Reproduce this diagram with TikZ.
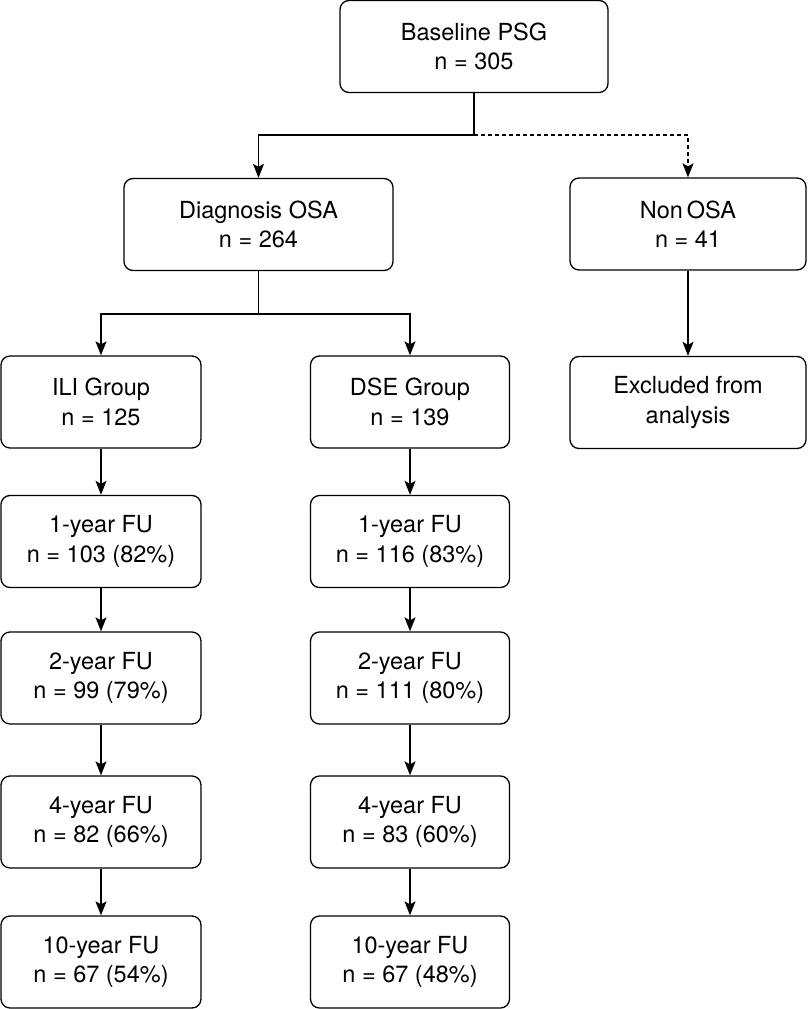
\documentclass[tikz,border=0pt]{standalone}
\usepackage{fontspec}
\setmainfont{TeX Gyre Heros}
\usetikzlibrary{arrows.meta}

\tikzset{
  stage/.style={draw, line width=1.3pt, rounded corners=9pt, align=center,
    minimum height=92pt, inner sep=0pt, font=\fontsize{23.5}{29.5}\selectfont},
  flow/.style={line width=1.3pt, -{Stealth[length=14pt,width=11pt,inset=3pt]}},
  link/.style={line width=1.3pt}
}

\begin{document}
\begin{tikzpicture}[x=1pt,y=1pt]
			%%%%% START %%%%%
			\useasboundingbox (0, 0) rectangle (807, -1009);
			
			\node[stage, minimum width=268pt] (base) at (474, -46.5) {Baseline PSG\\n = 305};
			
			\node[stage, minimum width=269pt] (diag) at (258.5, -224.5) {Diagnosis OSA\\n = 264};
			\node[stage, minimum width=236pt] (non) at (688, -224) {Non\,OSA\\n = 41};
			
			\node[stage, minimum width=200pt] (ili) at (101, -402) {ILI Group\\n = 125};
			\node[stage, minimum width=199pt] (dse) at (410, -402) {DSE Group\\n = 139};
			\node[stage, minimum width=236pt] (excl) at (688, -402.5) {Excluded from\\analysis};
			
			\node[stage, minimum width=200pt] (ili1) at (101, -541.5) {1-year FU\\n = 103 (82\%)};
			\node[stage, minimum width=200pt] (ili2) at (101, -678) {2-year FU\\n = 99 (79\%)};
			\node[stage, minimum width=200pt] (ili4) at (101, -822) {4-year FU\\n = 82 (66\%)};
			\node[stage, minimum width=200pt] (ili10) at (101, -962) {10-year FU\\n = 67 (54\%)};
			
			\node[stage, minimum width=199pt] (dse1) at (410, -541.5) {1-year FU\\n = 116 (83\%)};
			\node[stage, minimum width=199pt] (dse2) at (410, -678) {2-year FU\\n = 111 (80\%)};
			\node[stage, minimum width=199pt] (dse4) at (410, -822) {4-year FU\\n = 83 (60\%)};
			\node[stage, minimum width=199pt] (dse10) at (410, -962) {10-year FU\\n = 67 (48\%)};
			
			% branch points
			\coordinate (split) at (474, -135);
			\coordinate (fork) at (258.5, -314);
			
			\draw[link] (base) -- (split);
			\draw[flow] (split) -| (diag);
			\draw[flow, dash pattern=on 4pt off 3pt] (split) -| (non);
			\draw[flow] (non) -- (excl);
			
			\draw[link] (diag) -- (fork);
			\draw[flow] (fork) -| (ili);
			\draw[flow] (fork) -| (dse);
			
			\draw[flow] (ili) -- (ili1);
			\draw[flow] (ili1) -- (ili2);
			\draw[flow] (ili2) -- (ili4);
			\draw[flow] (ili4) -- (ili10);
			
			\draw[flow] (dse) -- (dse1);
			\draw[flow] (dse1) -- (dse2);
			\draw[flow] (dse2) -- (dse4);
			\draw[flow] (dse4) -- (dse10);
			%%%%% END %%%%%
		\end{tikzpicture}
\end{document}
